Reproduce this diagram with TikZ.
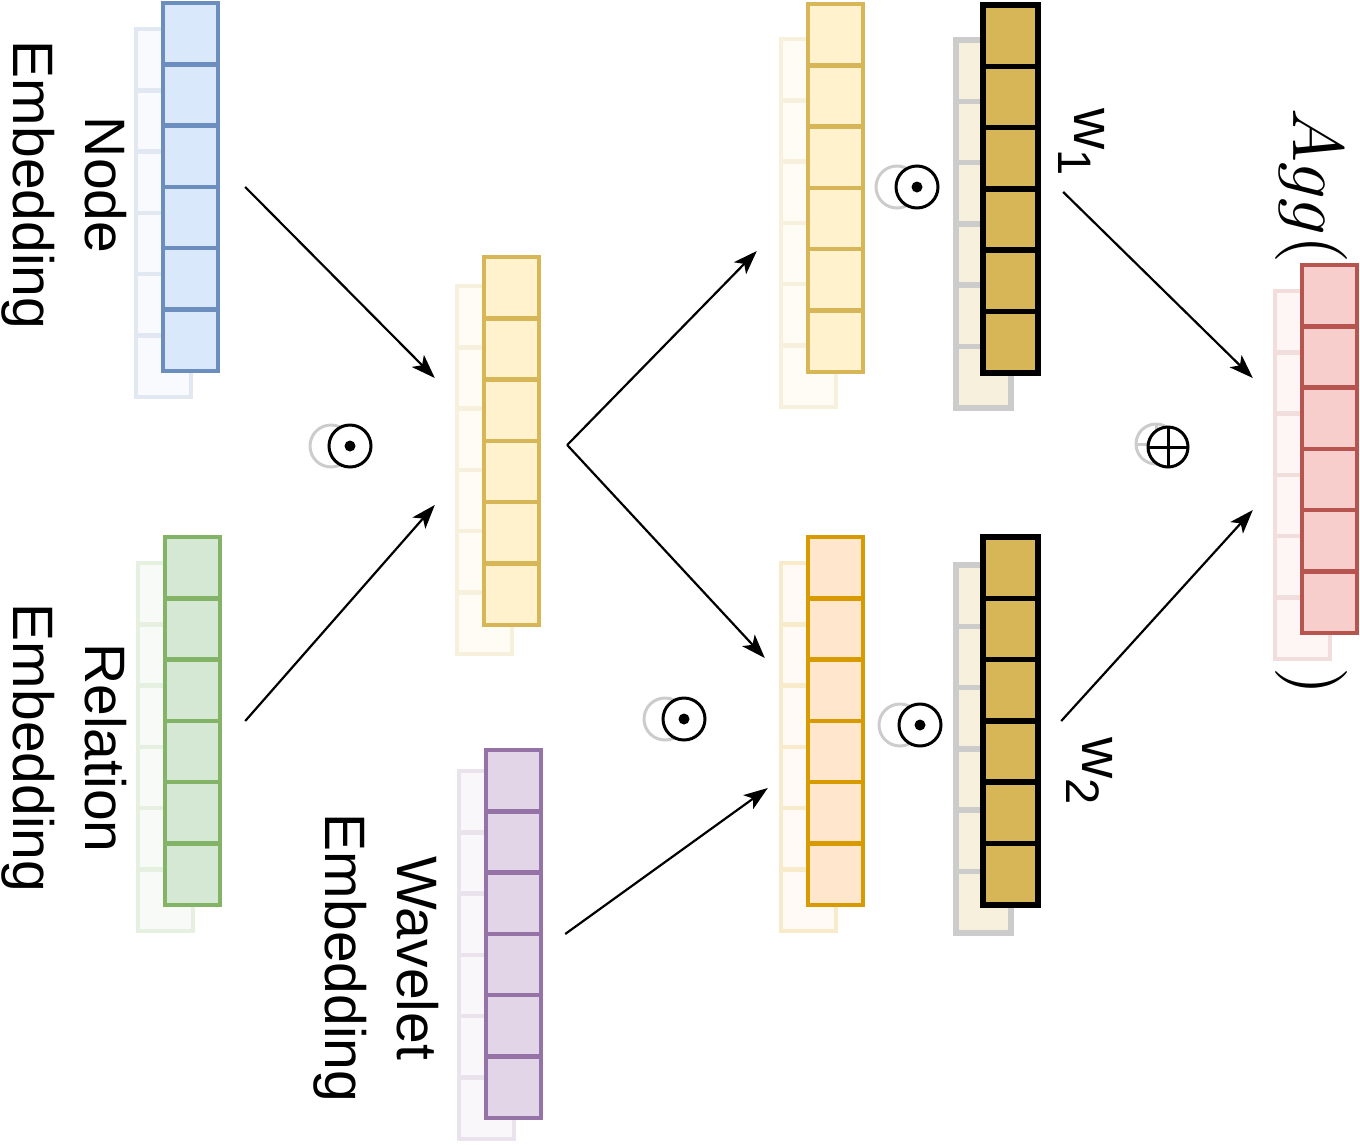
\documentclass[tikz,border=0pt]{standalone}
\usepackage{fontspec}
\setmainfont{Liberation Sans}
\usetikzlibrary{arrows.meta}

\definecolor{bluefill}{HTML}{DAE8FC}\definecolor{blueline}{HTML}{6C8EBF}
\definecolor{greenfill}{HTML}{D5E8D4}\definecolor{greenline}{HTML}{82B366}
\definecolor{yellowfill}{HTML}{FFF2CC}\definecolor{yellowline}{HTML}{D6B656}
\definecolor{purplefill}{HTML}{E1D5E7}\definecolor{purpleline}{HTML}{9673A6}
\definecolor{orangefill}{HTML}{FFE6CC}\definecolor{orangeline}{HTML}{D79B00}
\definecolor{redfill}{HTML}{F8CECC}\definecolor{redline}{HTML}{B85450}
\definecolor{goldfill}{HTML}{D6B656}

% embedding vector: name, left x, top y, fill, line, back y offset, line width
\newcommand{\embvec}[7]{%
  \foreach \row in {0,...,5}
    \draw[fill=#4!20, draw=#5!20, line width=#7] (#2-27,#3+#6+\row*61.3) rectangle ++(55,61.3);
  \foreach \row in {0,...,5}
    \draw[fill=#4, draw=#5, line width=#7] (#2,#3+\row*61.3) rectangle ++(55,61.3);
  \node[vecbox] (#1) at (#2+27.5,#3+184) {};
}

\begin{document}
\begin{tikzpicture}[x=1pt, y=-1pt,
  vecbox/.style={rectangle, minimum width=55pt, minimum height=368pt, inner sep=0pt},
  lbl/.style={rotate=-90, align=center, inner sep=0pt, font=\fontsize{57}{72}\selectfont},
  mathlbl/.style={rotate=-90, inner sep=0pt, scale=7.2, font=\fontsize{10}{12}\selectfont},
  opsym/.style={circle, draw, fill=white, line width=3pt, minimum size=42pt, inner sep=0pt,
    path picture={\fill[black] (path picture bounding box.center) circle (5.5pt);}},
  opshadow/.style={circle, draw=black!20, line width=3pt, minimum size=42pt, inner sep=0pt},
  plussym/.style={circle, draw, fill=white, line width=3pt, minimum size=40pt, inner sep=0pt,
    path picture={\draw[black, line width=3pt] (path picture bounding box.north) -- (path picture bounding box.south)
      (path picture bounding box.west) -- (path picture bounding box.east);}},
  plusshadow/.style={circle, draw=black!20, line width=3pt, minimum size=40pt, inner sep=0pt,
    path picture={\draw[black!20, line width=3pt] (path picture bounding box.north) -- (path picture bounding box.south)
      (path picture bounding box.west) -- (path picture bounding box.east);}},
  arr/.style={-{Stealth[length=24pt, width=17pt, inset=6pt]}, line width=2.2pt}
]
\useasboundingbox (0,0) rectangle (1360,1144);

% vectors
\embvec{node}{163}{3}{bluefill}{blueline}{26}{4.5pt}
\embvec{rel}{165}{537}{greenfill}{greenline}{26}{4.5pt}
\embvec{mix}{484}{257}{yellowfill}{yellowline}{29}{4.5pt}
\embvec{wav}{486}{750}{purplefill}{purpleline}{21}{4.5pt}
\embvec{top}{808}{4}{yellowfill}{yellowline}{35}{4.5pt}
\embvec{wone}{983}{5}{goldfill}{black}{35}{5.5pt}
\embvec{bot}{808}{537}{orangefill}{orangeline}{26}{4.5pt}
\embvec{wtwo}{983}{537}{goldfill}{black}{28}{5.5pt}
\embvec{agg}{1302}{265}{redfill}{redline}{26}{4.5pt}

% labels
\node[lbl] (nodelbl) at (64,185) {Node\\Embedding};
\node[lbl] (rellbl) at (64,748) {Relation\\Embedding};
\node[lbl] (wavlbl) at (376,958) {Wavelet\\Embedding};
\node[lbl] (wonelbl) at (1082,142) {w\raisebox{-16pt}{\fontsize{47}{47}\selectfont 1}};
\node[lbl] (wtwolbl) at (1090,771) {w\raisebox{-16pt}{\fontsize{47}{47}\selectfont 2}};
\node[mathlbl] (agglbl) at (1311,186) {$Agg($};
\node[mathlbl] (closelbl) at (1311,681) {$)$};

% operators
\node[opshadow] (sh1) at (331,446) {};
\node[opsym] (op1) at (350,446) {};
\node[opshadow] (sh2) at (897,187) {};
\node[opsym] (op2) at (917,187) {};
\node[opshadow] (sh3) at (665,719) {};
\node[opsym] (op3) at (684,719) {};
\node[opshadow] (sh4) at (900,725) {};
\node[opsym] (op4) at (920,725) {};
\node[plusshadow] (sh5) at (1156,444) {};
\node[plussym] (op5) at (1168,447) {};

% arrows
\draw[arr] ([xshift=27pt]node.east) -- ([xshift=-49pt, yshift=63pt]mix.west);
\draw[arr] ([xshift=25pt]rel.east) -- ([xshift=-49pt, yshift=-64pt]mix.west);
\draw[arr] ([xshift=28pt, yshift=-4pt]mix.east) -- ([xshift=-51pt, yshift=-63pt]top.west);
\draw[arr] ([xshift=28pt, yshift=-4pt]mix.east) -- ([xshift=-43pt, yshift=63pt]bot.west);
\draw[arr] ([xshift=24pt]wav.east) -- ([xshift=-40pt, yshift=-67pt]bot.west);
\draw[arr] ([xshift=25pt, yshift=-3pt]wone.east) -- ([xshift=-49pt, yshift=71pt]agg.west);
\draw[arr] ([xshift=23pt]wtwo.east) -- ([xshift=-49pt, yshift=-61pt]agg.west);

\end{tikzpicture}
\end{document}
